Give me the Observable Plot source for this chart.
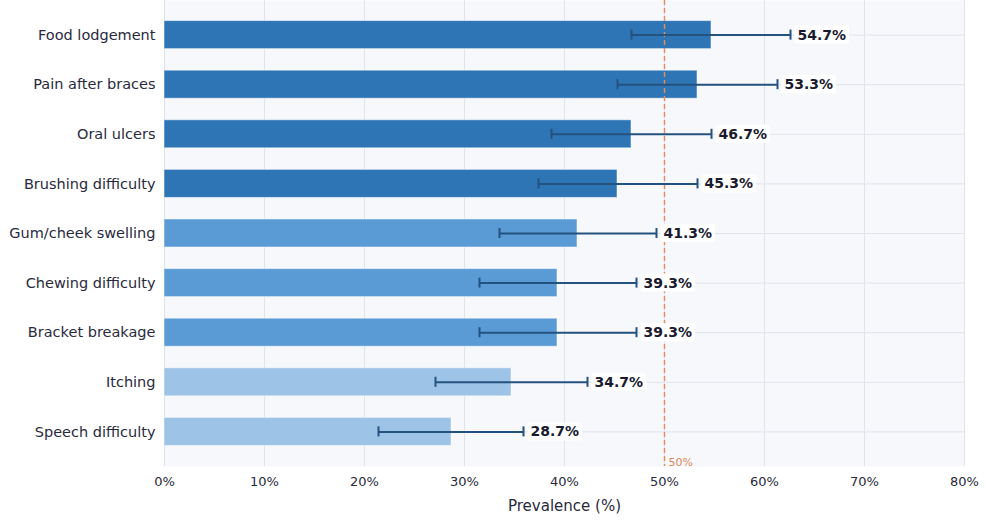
<!DOCTYPE html>
<html>
<head>
<meta charset="utf-8">
<script src="https://cdn.jsdelivr.net/npm/d3@7"></script>
<script src="https://cdn.jsdelivr.net/npm/@observablehq/plot@0.6"></script>
<style>
  html, body { margin: 0; padding: 0; background: #ffffff; }
  #chart svg { display: block; font-family: "DejaVu Sans", sans-serif; }
</style>
</head>
<body>
<div id="chart"></div>
<script>
const categories = ["Food lodgement", "Pain after braces", "Oral ulcers", "Brushing difficulty",
  "Gum/cheek swelling", "Chewing difficulty", "Bracket breakage", "Itching", "Speech difficulty"];
const prevalence = [54.7, 53.3, 46.7, 45.3, 41.3, 39.3, 39.3, 34.7, 28.7];
const ciLow  = [46.7, 45.3, 38.7, 37.4, 33.5, 31.5, 31.5, 27.1, 21.4];
const ciHigh = [62.6, 61.3, 54.7, 53.3, 49.2, 47.2, 47.2, 42.3, 35.9];
const xTicks = [0, 10, 20, 30, 40, 50, 60, 70, 80];
const refValue = 50;

const tierColor = v => v >= 45 ? "#2e75b6" : v >= 38 ? "#5b9bd5" : "#9dc3e6";

const data = categories.map((c, i) => ({
  cat: c, v: prevalence[i], lo: ciLow[i], hi: ciHigh[i], color: tierColor(prevalence[i])
}));

const chart = Plot.plot({
  width: 986,
  height: 521,
  marginTop: 0,
  marginLeft: 164,
  marginRight: 22,
  marginBottom: 55,
  style: { fontFamily: "DejaVu Sans, sans-serif", background: "#ffffff" },
  x: { domain: [0, 80], ticks: xTicks, tickFormat: d => d + "%", label: null },
  y: { domain: categories, paddingInner: 0.435, paddingOuter: 0.415, round: false, label: null },
  marks: [
    Plot.frame({ fill: "#f7f8fc", stroke: null }),
    Plot.gridX(xTicks, { stroke: "#e1e3ec", strokeOpacity: 1, strokeWidth: 1 }),
    Plot.gridY(categories, { stroke: "#e1e3ec", strokeOpacity: 1, strokeWidth: 1 }),
    Plot.ruleX([0], { stroke: "#dfe2eb", strokeWidth: 1 }),
    Plot.barX(data, { x: "v", y: "cat", fill: "color", stroke: "#ffffff", strokeOpacity: 0.5, strokeWidth: 1 }),
    Plot.ruleX([refValue], { stroke: "#e0905f", strokeWidth: 1.5, strokeDasharray: "5,3" }),
    Plot.text([refValue], { x: d => d, frameAnchor: "bottom", textAnchor: "start", dx: 4, dy: -1, text: d => d + "%", fill: "#d98a5a", fontSize: 11 }),
    Plot.ruleY(data, { y: "cat", x1: "lo", x2: "hi", stroke: "#24527f", strokeWidth: 2 }),
    Plot.tickX(data, { x: "lo", y: "cat", stroke: "#24527f", strokeWidth: 2, insetTop: 9, insetBottom: 9 }),
    Plot.tickX(data, { x: "hi", y: "cat", stroke: "#24527f", strokeWidth: 2, insetTop: 9, insetBottom: 9 }),
    Plot.text(data, { x: "hi", y: "cat", text: d => d.v.toFixed(1) + "%", textAnchor: "start", dx: 7, fontSize: 14, fontWeight: "bold", fill: "#1a1a2e", className: "vlabel" }),
    Plot.ruleY([0], { stroke: "#d9dce6", strokeWidth: 3, frameAnchor: "bottom" }),
    Plot.axisY({ tickSize: 0, tickPadding: 9, fontSize: 14.5, fill: "#2a2a3e", label: null }),
    Plot.axisX(xTicks, { tickSize: 0, tickPadding: 10, fontSize: 13, fill: "#2a2a3e", label: null, tickFormat: d => d + "%" }),
    Plot.text(["Prevalence (%)"], { frameAnchor: "bottom", dy: 44, text: d => d, fontSize: 15, fill: "#2a2a3e" })
  ]
});

document.getElementById("chart").appendChild(chart);

// white background boxes behind value labels
d3.select(chart).selectAll("g.vlabel text").each(function () {
  const b = this.getBBox();
  d3.select(this.parentNode).insert("rect", () => this)
    .attr("x", b.x - 3).attr("y", b.y - 1)
    .attr("width", b.width + 6).attr("height", b.height + 2)
    .attr("fill", "#ffffff").attr("rx", 2)
    .attr("transform", this.getAttribute("transform"));
});
</script>
</body>
</html>
